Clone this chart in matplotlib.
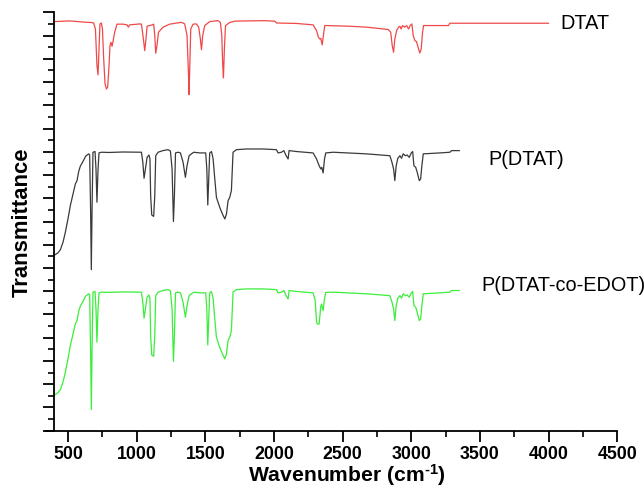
import matplotlib
matplotlib.use("Agg")
import matplotlib.pyplot as plt
from matplotlib.ticker import MultipleLocator

plt.rcParams['font.family'] = ['Liberation Sans', 'DejaVu Sans']
plt.rcParams['mathtext.fontset'] = 'custom'
plt.rcParams['mathtext.rm'] = 'Liberation Sans:bold'
plt.rcParams['mathtext.bf'] = 'Liberation Sans:bold'
plt.rcParams['mathtext.default'] = 'bf'

# ---- data (wavenumber, transmittance offset units) ----
dtat_x = [400, 512, 612, 670, 687, 700, 711, 719, 726, 733, 743, 751, 760, 770, 780, 789, 799,
          806, 813, 821, 828, 840, 857, 901, 930, 940, 950, 1022, 1035, 1046, 1059, 1068, 1076,
          1095, 1115, 1124, 1132, 1139, 1148, 1159, 1192, 1241, 1326, 1350, 1367, 1377, 1382,
          1387, 1394, 1411, 1435, 1452, 1464, 1472, 1481, 1496, 1532, 1593, 1610, 1620, 1627,
          1632, 1639, 1647, 1678, 1715, 1921, 2006, 2018, 2164, 2285, 2310, 2324, 2334, 2341,
          2351, 2363, 2370, 2383, 2553, 2676, 2832, 2850, 2861, 2871, 2880, 2893, 2907, 2917,
          2926, 2936, 2951, 2966, 2980, 2992, 3004, 3014, 3026, 3038, 3053, 3062, 3072, 3082,
          3089, 3271, 3281, 3999]
dtat_y = [17.60, 17.63, 17.58, 17.56, 17.54, 17.28, 15.71, 15.31, 16.42, 17.50, 17.54, 17.28,
          16.00, 14.92, 14.70, 14.78, 15.71, 16.57, 16.71, 16.54, 16.74, 17.14, 17.49, 17.49,
          17.46, 17.36, 17.46, 17.50, 17.49, 17.00, 16.35, 16.85, 17.40, 17.43, 17.46, 17.49,
          17.00, 16.24, 16.57, 17.14, 17.36, 17.49, 17.57, 17.50, 17.00, 15.42, 14.46, 15.71,
          17.28, 17.49, 17.50, 17.36, 16.85, 16.39, 17.00, 17.43, 17.60, 17.64, 17.56, 17.00,
          15.71, 15.18, 16.42, 17.43, 17.56, 17.62, 17.64, 17.62, 17.54, 17.52, 17.46, 17.21,
          16.92, 16.85, 16.88, 16.60, 17.14, 17.43, 17.43, 17.40, 17.36, 17.26, 17.14, 16.57,
          16.28, 16.85, 17.21, 17.36, 17.40, 17.28, 17.43, 17.36, 17.43, 17.28, 17.43, 17.50,
          17.00, 16.78, 16.74, 16.42, 16.25, 16.42, 17.14, 17.43, 17.43, 17.53, 17.53]

pdtat_x = [403, 427, 445, 464, 481, 500, 517, 537, 554, 566, 578, 590, 609, 629, 651, 658, 665,
           670, 675, 682, 697, 704, 711, 719, 726, 743, 800, 900, 1035, 1045, 1054, 1064, 1076,
           1090, 1097, 1102, 1110, 1124, 1132, 1139, 1156, 1192, 1229, 1246, 1258, 1268, 1275,
           1283, 1302, 1319, 1338, 1355, 1367, 1382, 1399, 1416, 1460, 1503, 1511, 1518, 1525,
           1532, 1545, 1557, 1569, 1581, 1605, 1625, 1642, 1654, 1666, 1678, 1690, 1702, 1727,
           1800, 1921, 2018, 2030, 2055, 2072, 2086, 2103, 2110, 2164, 2285, 2310, 2329, 2341,
           2348, 2358, 2368, 2377, 2431, 2674, 2844, 2859, 2871, 2880, 2890, 2902, 2917, 2929,
           2941, 2958, 2970, 2985, 3000, 3010, 3019, 3032, 3043, 3058, 3068, 3077, 3087, 3208,
           3281, 3293, 3349]
pdtat_y = [7.56, 7.65, 7.79, 8.11, 8.54, 9.11, 9.68, 10.19, 10.62, 10.76, 11.15, 11.38, 11.58,
           11.81, 11.91, 11.86, 9.40, 6.93, 9.40, 11.98, 12.01, 11.26, 9.83, 11.26, 11.95, 11.98,
           11.97, 11.99, 11.98, 11.55, 10.86, 11.26, 11.76, 11.86, 11.69, 10.11, 9.28, 9.22,
           10.11, 11.83, 11.98, 12.05, 12.09, 12.03, 11.26, 9.00, 10.11, 11.95, 11.98, 11.95,
           11.55, 10.90, 11.40, 11.83, 11.91, 11.98, 11.95, 11.95, 11.26, 9.71, 10.83, 11.95,
           12.01, 11.69, 10.83, 10.04, 9.61, 9.32, 9.11, 9.32, 9.90, 10.04, 10.33, 11.98, 12.09,
           12.12, 12.12, 12.09, 11.95, 11.98, 12.05, 11.86, 11.69, 12.05, 12.01, 11.95, 11.69,
           11.40, 11.26, 11.33, 11.09, 11.69, 11.95, 11.98, 11.91, 11.83, 11.55, 11.26, 10.76,
           11.40, 11.72, 11.83, 11.72, 11.91, 11.83, 11.86, 11.76, 11.95, 12.01, 11.40, 11.33,
           11.12, 10.76, 10.83, 11.40, 11.91, 11.95, 11.98, 12.05, 12.05]

copoly_x = [403, 427, 445, 464, 481, 500, 517, 537, 554, 566, 578, 590, 609, 629, 651, 658, 665,
            670, 675, 682, 697, 704, 711, 719, 726, 743, 800, 900, 1035, 1045, 1054, 1064, 1076,
            1090, 1097, 1102, 1110, 1124, 1132, 1139, 1156, 1192, 1229, 1246, 1258, 1268, 1275,
            1283, 1302, 1319, 1338, 1355, 1367, 1382, 1399, 1416, 1460, 1503, 1511, 1518, 1525,
            1532, 1545, 1557, 1569, 1581, 1605, 1625, 1642, 1654, 1666, 1678, 1690, 1702, 1727,
            1800, 1921, 2018, 2030, 2055, 2072, 2086, 2103, 2110, 2164, 2285, 2300, 2310, 2315,
            2329, 2340, 2346, 2358, 2366, 2377, 2431, 2674, 2844, 2859, 2871, 2880, 2890, 2902,
            2917, 2929, 2941, 2958, 2970, 2985, 3000, 3010, 3019, 3032, 3043, 3058, 3068, 3077,
            3087, 3208, 3281, 3293, 3349]
copoly_y = [1.54, 1.63, 1.77, 2.09, 2.52, 3.09, 3.66, 4.17, 4.60, 4.74, 5.13, 5.36, 5.56, 5.79,
            5.89, 5.84, 3.38, 0.91, 3.38, 5.96, 5.99, 5.24, 3.81, 5.24, 5.93, 5.96, 5.95, 5.97,
            5.96, 5.53, 4.84, 5.24, 5.74, 5.84, 5.67, 4.09, 3.26, 3.20, 4.09, 5.81, 5.96, 6.03,
            6.07, 6.01, 5.24, 2.98, 4.09, 5.93, 5.96, 5.93, 5.53, 4.88, 5.38, 5.81, 5.89, 5.96,
            5.93, 5.93, 5.24, 3.69, 4.81, 5.93, 5.99, 5.67, 4.81, 4.02, 3.59, 3.30, 3.09, 3.30,
            3.88, 4.02, 4.31, 5.96, 6.07, 6.10, 6.10, 6.07, 5.93, 5.96, 6.03, 5.84, 5.67, 6.03,
            5.99, 5.93, 5.60, 4.70, 4.59, 4.59, 5.30, 5.45, 5.16, 5.60, 5.95, 5.96, 5.89, 5.81,
            5.53, 5.24, 4.74, 5.38, 5.70, 5.81, 5.70, 5.89, 5.81, 5.84, 5.74, 5.93, 5.99, 5.38,
            5.31, 5.10, 4.74, 4.81, 5.38, 5.89, 5.93, 5.96, 6.03, 6.03]

labels = ["DTAT", "P(DTAT)", "P(DTAT-co-EDOT)"]
label_x = [4083, 3560, 3507]
label_y = [17.57, 11.73, 6.27]
colors = ["#f04848", "#3a3a3a", "#3aee3a"]
x_ticks = [500, 1000, 1500, 2000, 2500, 3000, 3500, 4000, 4500]
x_tick_labels = ["500", "1000", "1500", "2000", "2500", "3000", "3500", "4000", "4500"]

fig = plt.figure(figsize=(6.44, 4.89), dpi=100)
ax = fig.add_axes([46 / 644, 1 - 431.7 / 489, (617.3 - 46) / 644, (431.7 - 13.3) / 489])

ax.plot(dtat_x, dtat_y, color=colors[0], lw=0.9)
ax.plot(pdtat_x, pdtat_y, color=colors[1], lw=0.9)
ax.plot(copoly_x, copoly_y, color=colors[2], lw=0.9)

for t, xx, yy in zip(labels, label_x, label_y):
    ax.text(xx, yy, t, fontsize=14.3, ha='left', va='center', clip_on=False)

ax.set_xlim(340, 4500)
ax.set_ylim(0, 18)
ax.spines['left'].set_position(('data', 400))
ax.spines['top'].set_visible(False)
ax.spines['right'].set_visible(False)
for s in ['left', 'bottom']:
    ax.spines[s].set_linewidth(1.3)

ax.set_xticks(x_ticks)
ax.set_xticklabels(x_tick_labels, fontweight='bold', fontsize=12.8)
ax.xaxis.set_minor_locator(MultipleLocator(250))
ax.yaxis.set_major_locator(MultipleLocator(1))
ax.yaxis.set_minor_locator(MultipleLocator(0.5))
ax.set_yticklabels([])
ax.tick_params(which='major', direction='out', length=8, width=1.3)
ax.tick_params(which='minor', direction='out', length=4, width=1.2)
ax.tick_params(axis='x', pad=2)

fig.text(347 / 644, 1 - 482 / 489, r'Wavenumber (cm$^{\text{-1}}$)', fontsize=15.2,
         fontweight='bold', ha='center', va='baseline')
fig.text(22 / 644, 1 - 222 / 489, 'Transmittance', fontsize=15.8, fontweight='bold',
         rotation=90, ha='center', va='center')

fig.savefig('out.png', dpi=100)
